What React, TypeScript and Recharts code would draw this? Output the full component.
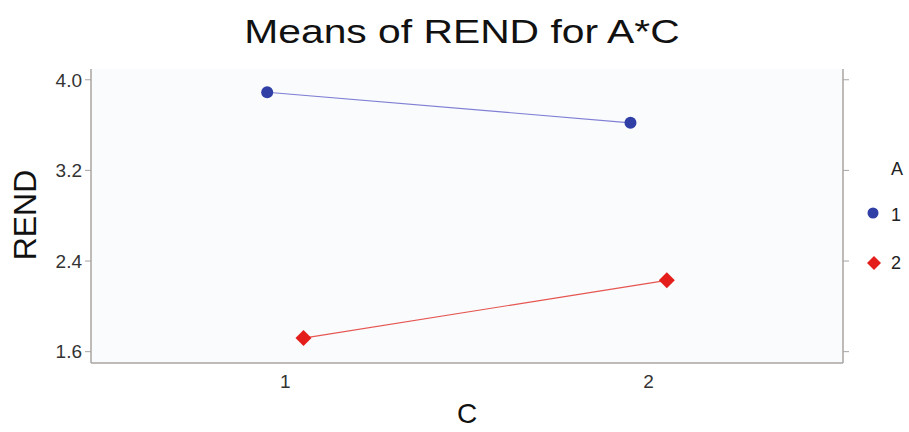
import { LineChart, Line, XAxis, YAxis, CartesianGrid } from 'recharts'

// Means of REND per level of C, one series per level of A (dodged slightly on x)
const C_LEVELS = [1, 2]
const DODGE = 0.05
const A1_MEANS = [3.89, 3.62]
const A2_MEANS = [1.72, 2.23]
const Y_TICKS = [1.6, 2.4, 3.2, 4.0]

const BLUE = '#2f3fa6'
const BLUE_LINE = '#7f7fd4'
const RED = '#e31e1b'
const RED_LINE = '#e65550'
const FRAME = '#a8a4a0'
const FONT = '"Liberation Sans", Arial, sans-serif'

const a1Data = C_LEVELS.map((c, i) => ({ x: c - DODGE, y: A1_MEANS[i] }))
const a2Data = C_LEVELS.map((c, i) => ({ x: c + DODGE, y: A2_MEANS[i] }))

const X_DOMAIN: [number, number] = [0.465, 2.535]
const Y_DOMAIN: [number, number] = [1.5, 4.095]

function CircleDot(props: any) {
  const { cx, cy, index } = props
  if (cx == null || cy == null) return null
  return <circle key={`c-${index}`} cx={cx} cy={cy} r={6} fill={BLUE} />
}

function DiamondDot(props: any) {
  const { cx, cy, index } = props
  if (cx == null || cy == null) return null
  const s = 8
  return (
    <path
      key={`d-${index}`}
      d={`M${cx},${cy - s}L${cx + s},${cy}L${cx},${cy + s}L${cx - s},${cy}Z`}
      fill={RED}
    />
  )
}

const tickStyle = { fontSize: 19, fill: '#333', fontFamily: FONT }

export default function App() {
  return (
    <div style={{ position: 'absolute', left: 0, top: 0, width: 909, height: 432, background: '#fff', fontFamily: FONT, overflow: 'hidden' }}>
      <LineChart width={909} height={432} margin={{ top: 69, right: 56, bottom: 29, left: 31 }}>
        <CartesianGrid horizontal={false} vertical={false} fill="#f9fbfd" />
        <XAxis
          xAxisId={0}
          type="number"
          dataKey="x"
          domain={X_DOMAIN}
          ticks={C_LEVELS}
          allowDataOverflow
          height={40}
          tickLine={false}
          tickMargin={6}
          tick={tickStyle}
          axisLine={{ stroke: FRAME, strokeWidth: 1.5 }}
        />
        <XAxis
          xAxisId="top"
          orientation="top"
          type="number"
          domain={X_DOMAIN}
          allowDataOverflow
          height={0}
          tick={false}
          tickLine={false}
          axisLine={{ stroke: FRAME, strokeWidth: 1.5 }}
        />
        <YAxis
          yAxisId="left"
          type="number"
          domain={Y_DOMAIN}
          ticks={Y_TICKS}
          allowDataOverflow
          width={60}
          tickSize={6}
          tickMargin={3}
          tick={tickStyle}
          tickFormatter={(v: number) => v.toFixed(1)}
          tickLine={{ stroke: FRAME }}
          axisLine={{ stroke: FRAME, strokeWidth: 1.5 }}
        />
        <YAxis
          yAxisId="right"
          orientation="right"
          type="number"
          domain={Y_DOMAIN}
          ticks={Y_TICKS}
          allowDataOverflow
          width={10}
          tickSize={6}
          tickFormatter={() => ''}
          tickLine={{ stroke: FRAME }}
          axisLine={{ stroke: FRAME, strokeWidth: 1.5 }}
        />
        <Line
          yAxisId="left"
          data={a1Data}
          dataKey="y"
          stroke={BLUE_LINE}
          strokeWidth={1.2}
          dot={CircleDot}
          activeDot={false}
          isAnimationActive={false}
        />
        <Line
          yAxisId="left"
          data={a2Data}
          dataKey="y"
          stroke={RED_LINE}
          strokeWidth={1.2}
          dot={DiamondDot}
          activeDot={false}
          isAnimationActive={false}
        />
      </LineChart>

      <div
        style={{
          position: 'absolute',
          left: 0,
          width: 924,
          top: 12,
          textAlign: 'center',
          fontSize: 34,
          color: '#111',
          transform: 'scaleX(1.2)',
          transformOrigin: '462px 0',
        }}
      >
        Means of REND for A*C
      </div>
      <div
        style={{
          position: 'absolute',
          left: 25,
          top: 215,
          transform: 'translate(-50%, -50%) rotate(-90deg)',
          fontSize: 32,
          color: '#111',
          whiteSpace: 'nowrap',
        }}
      >
        REND
      </div>
      <div
        style={{
          position: 'absolute',
          left: 0,
          width: 934,
          top: 402,
          height: 24,
          lineHeight: '24px',
          textAlign: 'center',
          fontSize: 28,
          color: '#111',
        }}
      >
        C
      </div>

      <div style={{ position: 'absolute', left: 891, top: 159, fontSize: 18, color: '#222' }}>A</div>
      <svg style={{ position: 'absolute', left: 864, top: 203 }} width={20} height={70}>
        <circle cx={9} cy={10} r={5.5} fill={BLUE} />
        <path d="M10,53L17,60L10,67L3,60Z" fill={RED} />
      </svg>
      <div style={{ position: 'absolute', left: 891, top: 205, fontSize: 18, color: '#222' }}>1</div>
      <div style={{ position: 'absolute', left: 891, top: 253, fontSize: 18, color: '#222' }}>2</div>
    </div>
  )
}
